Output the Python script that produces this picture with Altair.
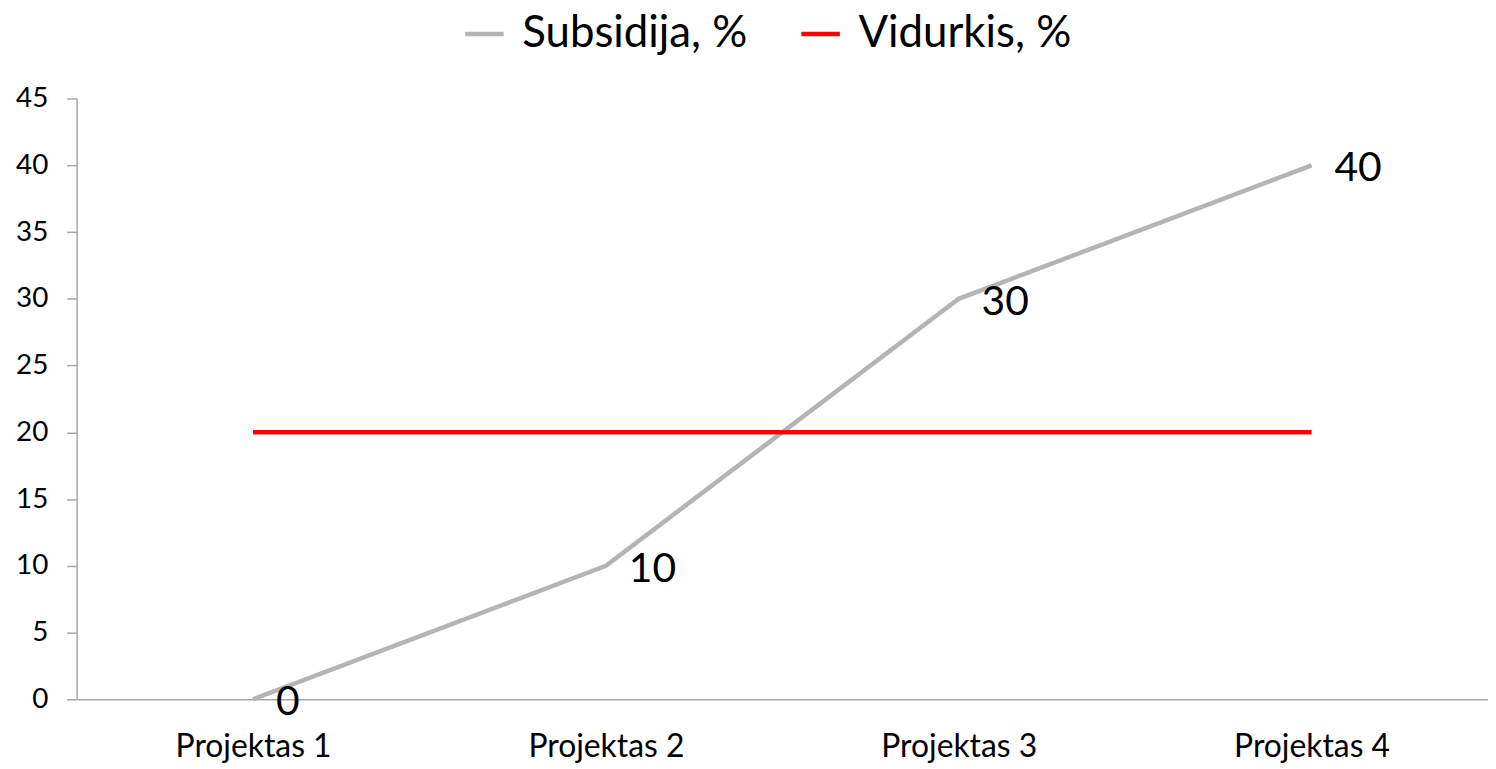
import altair as alt
import pandas as pd

categories = ["Projektas 1", "Projektas 2", "Projektas 3", "Projektas 4"]
subsidija = [0, 10, 30, 40]
vidurkis = [20, 20, 20, 20]
series_names = ["Subsidija, %", "Vidurkis, %"]
series_colors = ["#B4B4B4", "#FF0000"]
y_ticks = [0, 5, 10, 15, 20, 25, 30, 35, 40, 45]

rows = []
for c, v in zip(categories, subsidija):
    rows.append({"cat": c, "val": v, "series": series_names[0], "order": 0})
for c, v in zip(categories, vidurkis):
    rows.append({"cat": c, "val": v, "series": series_names[1], "order": 1})
df = pd.DataFrame(rows)

FONT = "Lato"
x_scale = alt.Scale(type="point", padding=0.5)

x_enc = alt.X("cat:N", sort=categories, scale=x_scale,
              axis=alt.Axis(title=None, labelAngle=0, labelFontSize=32, labelColor="#000000",
                            labelFont=FONT, tickSize=0, labelPadding=33,
                            domainColor="#A6A6A6", domainWidth=1.5, grid=False))
y_enc = alt.Y("val:Q", scale=alt.Scale(domain=[0, 45], nice=False),
              axis=alt.Axis(title=None, values=y_ticks, labelFontSize=28, labelColor="#000000",
                            labelFont=FONT, tickSize=10, tickColor="#A6A6A6", tickWidth=1.5,
                            labelPadding=19, domainColor="#A6A6A6", domainWidth=1.5, grid=False))

lines = alt.Chart(df).mark_line(strokeWidth=4.5).encode(
    x=x_enc,
    y=y_enc,
    color=alt.Color("series:N",
                    scale=alt.Scale(domain=series_names, range=series_colors),
                    legend=alt.Legend(title=None, orient="none", direction="horizontal",
                                      legendX=388, legendY=-87, symbolType="stroke",
                                      symbolSize=1500, symbolStrokeWidth=4.5,
                                      labelFontSize=44, labelFont=FONT, labelColor="#000000",
                                      labelOffset=16, columnPadding=44, padding=0,
                                      labelLimit=500)),
    detail="series:N",
    order="order:Q",
)

labels = alt.Chart(df).transform_filter(
    alt.datum.series == series_names[0]
).mark_text(align="left", baseline="middle", dx=23, dy=4, fontSize=41, font=FONT,
            color="#000000").encode(
    x=alt.X("cat:N", sort=categories, scale=x_scale),
    y=alt.Y("val:Q"),
    text="val:Q",
)

chart = alt.layer(lines, labels).properties(
    width=1419, height=604,
    autosize=alt.AutoSizeParams(type="none"),
    padding={"left": 69, "top": 89, "right": 0, "bottom": 62},
).configure(background="white").configure_view(stroke=None)

chart.save("out.html", embed_options={"renderer": "svg", "actions": False})
